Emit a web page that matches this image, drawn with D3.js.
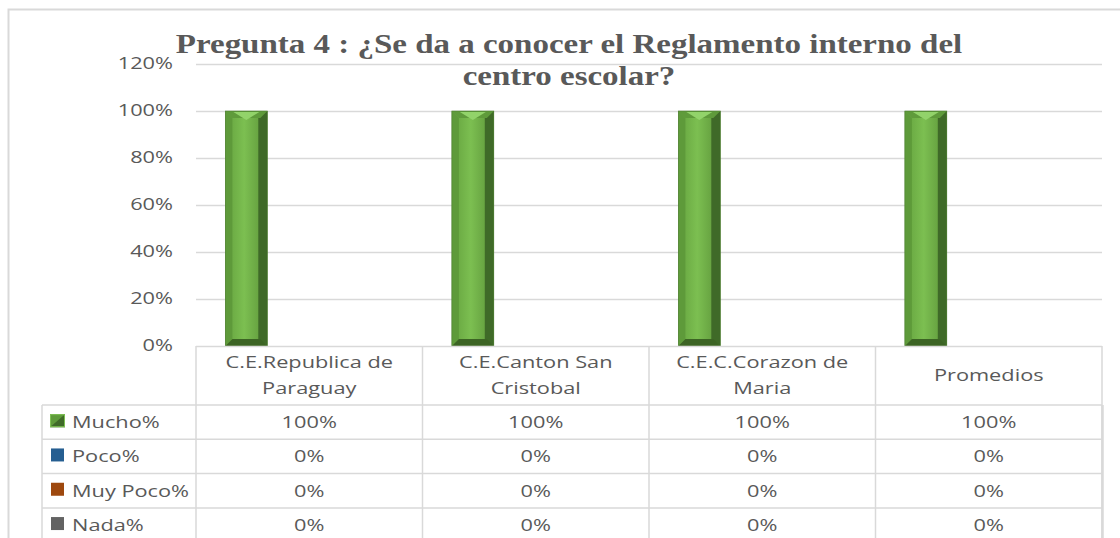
<!DOCTYPE html>
<html>
<head>
<meta charset="utf-8">
<script src="https://cdn.jsdelivr.net/npm/d3@7"></script>
<style>
  body { margin: 0; background: #fff; }
  svg { display: block; }
</style>
</head>
<body>
<script>
// data
const categories = ["C.E.Republica de Paraguay", "C.E.Canton San Cristobal", "C.E.C.Corazon de Maria", "Promedios"];
const seriesNames = ["Mucho%", "Poco%", "Muy Poco%", "Nada%"];
const mucho = [1, 1, 1, 1];
const poco = [0, 0, 0, 0];
const muyPoco = [0, 0, 0, 0];
const nada = [0, 0, 0, 0];
const yTicks = [0, 0.2, 0.4, 0.6, 0.8, 1.0, 1.2];
const titleLines = ["Pregunta 4 : ¿Se da a conocer el Reglamento interno del", "centro escolar?"];

const seriesValues = [mucho, poco, muyPoco, nada];
const seriesColors = ["#6aa842", "#255e91", "#9e480e", "#636363"];

const W = 1120, H = 538;
const plot = { left: 196, right: 1102, top: 64, bottom: 346 };
const grey = "#595959", lineCol = "#d9d9d9";
const pct = d3.format(".0%");
const SX = 1.28; // the original text is drawn wider than it is tall

const svg = d3.select("body").append("svg").attr("width", W).attr("height", H);

// text stretched sideways around its anchor point
function label(parent, x, y, txt, anchor, size) {
    const g = parent.append("g").attr("transform", `translate(${x},${y}) scale(${SX},1)`);
    return g.append("text")
        .attr("text-anchor", anchor || "start")
        .attr("dy", "0.35em")
        .attr("font-family", "Open Sans")
        .attr("font-size", size || 17)
        .attr("fill", grey)
        .text(txt);
}

// gradient for bar face
const defs = svg.append("defs");
const g1 = defs.append("linearGradient").attr("id", "faceGrad")
    .attr("x1", "0").attr("x2", "1").attr("y1", "0").attr("y2", "0");
g1.append("stop").attr("offset", "0").attr("stop-color", "#64a23e");
g1.append("stop").attr("offset", "0.45").attr("stop-color", "#7cbf51");
g1.append("stop").attr("offset", "1").attr("stop-color", "#5b9338");

// outer border
svg.append("rect")
    .attr("x", 8.5).attr("y", 9.5)
    .attr("width", W + 10).attr("height", H + 10)
    .attr("fill", "none").attr("stroke", lineCol).attr("stroke-width", 2);

// scales
const y = d3.scaleLinear().domain([0, 1.2]).range([plot.bottom, plot.top]);
const x0 = d3.scaleBand().domain(categories).range([plot.left, plot.right]);
const x1 = d3.scaleBand().domain(seriesNames).range([0, x0.bandwidth()])
    .paddingInner(0).paddingOuter(0.7);

// gridlines
svg.append("g")
    .selectAll("line")
    .data(yTicks.slice(1))
    .join("line")
    .attr("x1", plot.left).attr("x2", plot.right)
    .attr("y1", d => y(d) + 0.5).attr("y2", d => y(d) + 0.5)
    .attr("stroke", lineCol).attr("stroke-width", 1.5);

// y axis labels
const yAxis = d3.axisLeft(y).tickValues(yTicks).tickFormat(pct).tickSize(0);
const ya = svg.append("g").attr("transform", `translate(${plot.left},0)`).call(yAxis);
ya.select(".domain").remove();
ya.selectAll(".tick text").remove();
ya.selectAll(".tick").each(function (d) {
    label(d3.select(this), -23, -1, pct(d), "end", 17);
});

// bars
const b = 7;
seriesValues.forEach((vals, si) => {
    vals.forEach((v, ci) => {
        if (v <= 0) return;
        const bx = x0(categories[ci]) + x1(seriesNames[si]);
        const bw = x1.bandwidth();
        const by = y(v), bh = y(0) - y(v);
        const g = svg.append("g");
        g.append("rect").attr("x", bx).attr("y", by).attr("width", bw).attr("height", bh)
            .attr("fill", "url(#faceGrad)");
        // left bevel
        g.append("polygon")
            .attr("points", [[bx, by], [bx + b, by + b], [bx + b, by + bh - b], [bx, by + bh]].join(" "))
            .attr("fill", "#5e9a3a");
        // right bevel
        g.append("polygon")
            .attr("points", [[bx + bw, by], [bx + bw - b - 2, by + b], [bx + bw - b - 2, by + bh - b], [bx + bw, by + bh]].join(" "))
            .attr("fill", "#3f6a28");
        // top bevel
        g.append("polygon")
            .attr("points", [[bx, by], [bx + bw, by], [bx + bw - b, by + b], [bx + b, by + b]].join(" "))
            .attr("fill", "#5f9b3b");
        g.append("polygon")
            .attr("points", [[bx + 8, by + 1], [bx + bw - 8, by + 1], [bx + bw / 2, by + b + 2]].join(" "))
            .attr("fill", "#92d36a");
        // bottom bevel
        g.append("polygon")
            .attr("points", [[bx, by + bh], [bx + bw, by + bh], [bx + bw - b, by + bh - b], [bx + b, by + bh - b]].join(" "))
            .attr("fill", "#3c6424");
        g.append("rect").attr("x", bx).attr("y", by).attr("width", bw).attr("height", bh)
            .attr("fill", "none").attr("stroke", "#4a7a2e").attr("stroke-width", 0.6);
    });
});

// data table
const headTop = plot.bottom, headBot = 405, rowH = 34.3;
const legLeft = 42;
const tableBot = headBot + rowH * seriesNames.length;
const t = svg.append("g").attr("stroke", lineCol).attr("stroke-width", 1.5);
t.append("line").attr("x1", plot.left).attr("x2", plot.right).attr("y1", headTop + 0.5).attr("y2", headTop + 0.5);
seriesNames.forEach((s, i) => {
    const yy = headBot + i * rowH;
    t.append("line").attr("x1", legLeft).attr("x2", plot.right).attr("y1", yy).attr("y2", yy);
});
t.append("line").attr("x1", legLeft).attr("x2", legLeft).attr("y1", headBot).attr("y2", tableBot);
x0.domain().forEach(c => {
    t.append("line").attr("x1", x0(c)).attr("x2", x0(c)).attr("y1", headTop).attr("y2", tableBot);
});
t.append("line").attr("x1", plot.right).attr("x2", plot.right).attr("y1", headTop).attr("y2", tableBot);
t.append("line").attr("x1", plot.right + 0.5).attr("x2", plot.right + 0.5).attr("y1", headBot).attr("y2", tableBot)
    .attr("stroke-width", 2.5);

// header text (wrap)
const headG = svg.append("g");
categories.forEach(c => {
    const cx = x0(c) + x0.bandwidth() / 2;
    const words = c.split(" ");
    const lines = [];
    let cur = [];
    const probe = headG.append("text").attr("font-family", "Open Sans").attr("font-size", 17);
    words.forEach(wd => {
        cur.push(wd);
        probe.text(cur.join(" "));
        if (probe.node().getComputedTextLength() * SX > 200 && cur.length > 1) {
            cur.pop();
            lines.push(cur.join(" "));
            cur = [wd];
        }
    });
    lines.push(cur.join(" "));
    probe.remove();
    const midY = (headTop + headBot) / 2;
    const lh = 26;
    lines.forEach((ln, i) => {
        label(headG, cx, midY + (i - (lines.length - 1) / 2) * lh, ln, "middle", 17);
    });
});

// rows
seriesNames.forEach((s, si) => {
    const cy = headBot + si * rowH + rowH / 2;
    // legend key
    const kx = 50, ky = cy - 8;
    if (si === 0) {
        svg.append("rect").attr("x", kx).attr("y", ky).attr("width", 15).attr("height", 13).attr("fill", "#5e9a3a");
        svg.append("polygon").attr("points", [[kx, ky + 13], [kx + 15, ky], [kx + 15, ky + 13]].join(" ")).attr("fill", "#3f6a28");
        svg.append("rect").attr("x", kx + 0.5).attr("y", ky + 0.5).attr("width", 14).attr("height", 12)
            .attr("fill", "none").attr("stroke", "#7cbf51").attr("stroke-width", 1);
    } else {
        svg.append("rect").attr("x", kx + 1).attr("y", ky).attr("width", 13).attr("height", 13).attr("fill", seriesColors[si]);
    }
    label(svg, 72, cy, s, "start", 17);
    seriesValues[si].forEach((v, ci) => {
        label(svg, x0(categories[ci]) + x0.bandwidth() / 2, cy, pct(v), "middle", 17);
    });
});

// title, widened to the original's line width
const titleG = svg.append("g");
const tt = titleG.selectAll("text")
    .data(titleLines)
    .join("text")
    .attr("x", 0)
    .attr("y", (d, i) => i * 32)
    .attr("text-anchor", "middle")
    .attr("font-family", "Liberation Serif")
    .attr("font-weight", "bold")
    .attr("font-size", 27)
    .attr("fill", grey)
    .text(d => d);
const tsx = 787 / tt.nodes()[0].getComputedTextLength();
titleG.attr("transform", `translate(569,53) scale(${tsx},1)`);
</script>
</body>
</html>
